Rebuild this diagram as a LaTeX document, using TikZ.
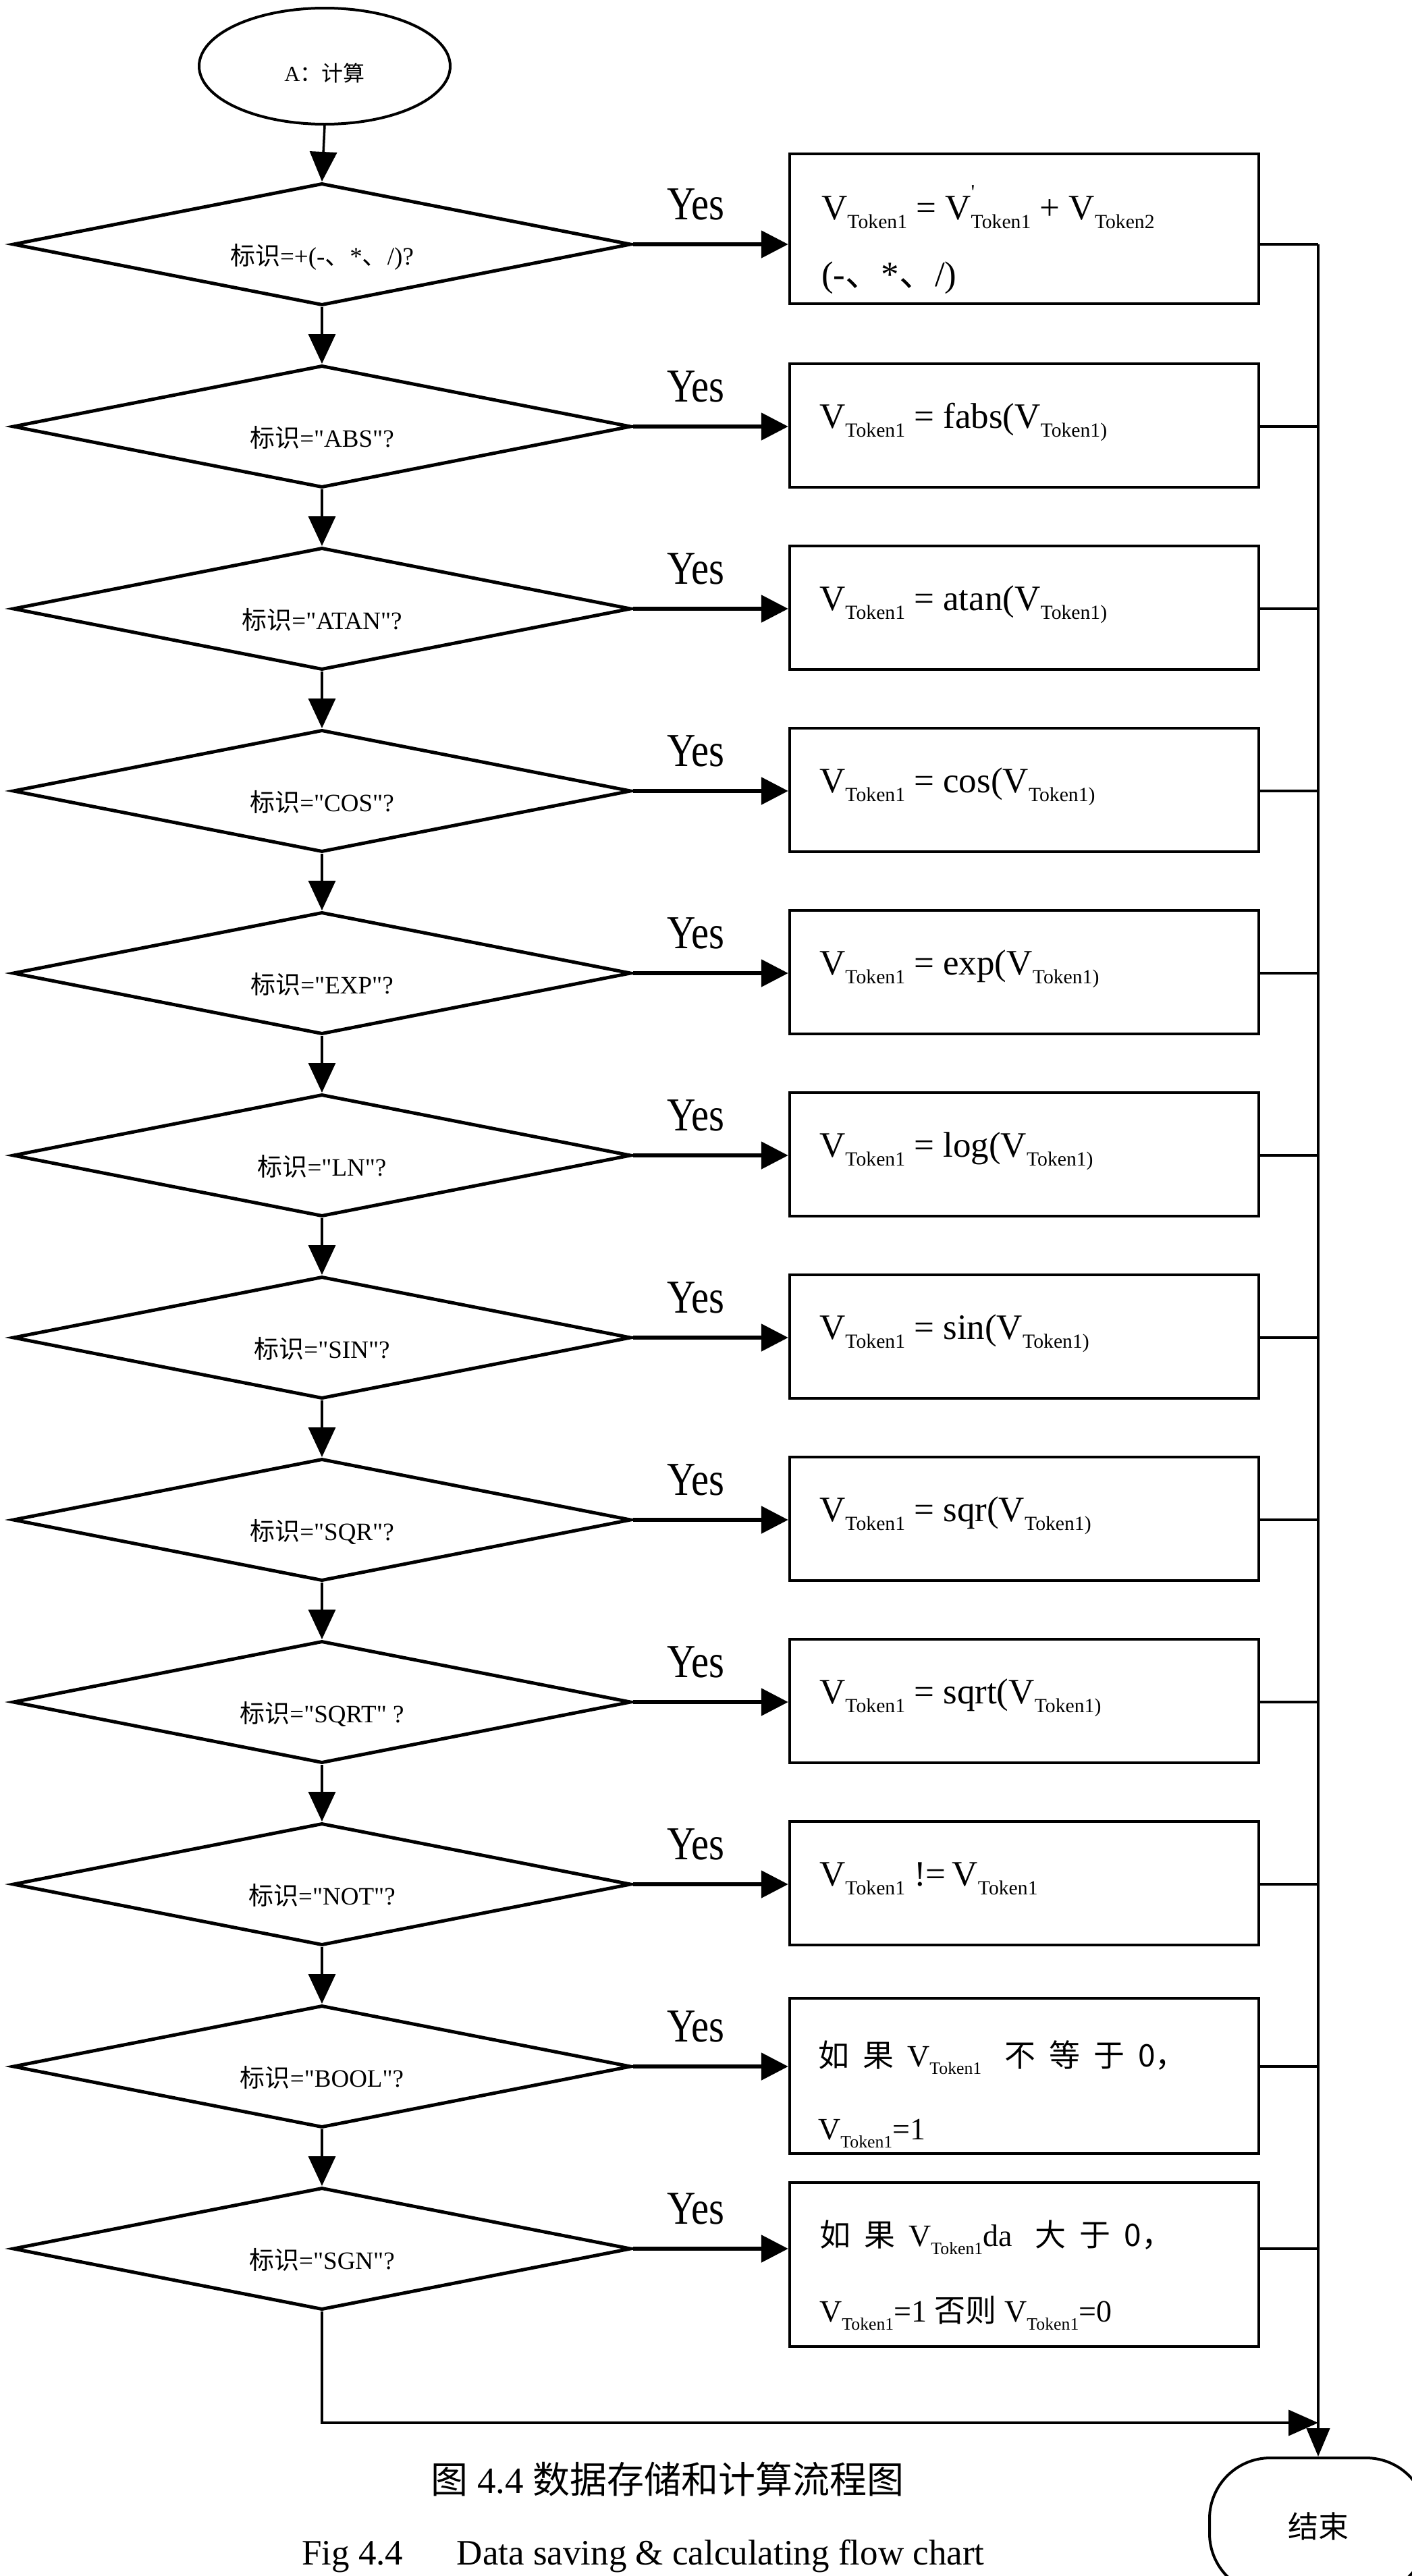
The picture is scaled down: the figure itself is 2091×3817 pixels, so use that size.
\documentclass[tikz,border=0pt]{standalone}
\usepackage{fontspec}
\usepackage{graphicx}
\setmainfont{Liberation Serif}[Ligatures=TeXOff]
\newfontfamily\cjk{Noto Sans CJK SC}
\newfontfamily\narrowserif{Liberation Serif}[FakeStretch=0.84]
\usetikzlibrary{shapes.geometric,arrows.meta}

% subscript "Token" style used in the formulas
\newcommand\sbs[1]{\raisebox{-0.26em}{\scalebox{0.56}{#1}}}
\newcommand\VT{V\sbs{Token1}}
\newcommand\prm{\rlap{\raisebox{0.55em}{\scalebox{0.6}{'}}}}
\newcommand\gp{\hspace{20pt}}
% decision label sits a little below the diamond centre
\newcommand\dlab[1]{\raisebox{-30pt}[0pt][0pt]{#1}}

\begin{document}
\begin{tikzpicture}[x=1pt,y=-1pt,
  terminal/.style={draw, ellipse, line width=4pt, minimum width=372pt, minimum height=172pt, inner sep=0pt,
    font=\fontsize{32}{38}\selectfont},
  decision/.style={draw, shape=diamond, aspect=5, line width=5pt, minimum width=916pt, minimum height=181pt,
    inner sep=0pt, font=\fontsize{37}{44}\selectfont},
  opbox/.style={draw, rectangle, line width=4.5pt, minimum width=695pt, minimum height=183pt, inner sep=0pt},
  optext/.style={anchor=base west, inner sep=0pt, font=\fontsize{53}{64}\selectfont},
  cjktext/.style={anchor=base west, inner sep=0pt, font=\fontsize{46}{56}\selectfont},
  yeslab/.style={inner sep=0pt, font=\narrowserif\fontsize{70}{82}\selectfont},
  flowdown/.style={line width=3.5pt, -{Triangle[length=44pt,width=40pt]}},
  flowright/.style={line width=5.5pt, -{Triangle[length=40pt,width=40pt]}},
  joinline/.style={line width=4.5pt},
]
\fill[white] (0,0) rectangle (2091,3817);
\useasboundingbox (0,0) rectangle (2091,3817);

% start
\node[terminal] (start) at (481,98) {\raisebox{-22pt}[0pt][0pt]{A{\cjk ：计算}}};

% decision chain
\foreach \i/\lab in {1/{+(-{\cjk 、}*{\cjk 、}/)?}, 2/{"ABS"?}, 3/{"ATAN"?}, 4/{"COS"?},
                     5/{"EXP"?}, 6/{"LN"?}, 7/{"SIN"?}, 8/{"SQR"?}, 9/{"SQRT" ?},
                     10/{"NOT"?}, 11/{"BOOL"?}, 12/{"SGN"?}} {
  \node[decision] (d\i) at (477,{362+270*(\i-1)}) {\dlab{{\cjk 标识}=\lab}};
  \node[yeslab] (y\i) at (1031,{303+270*(\i-1)}) {Yes};
}
\draw[flowdown] (start.south) -- (d1.north);
\foreach \i/\j in {1/2,2/3,3/4,4/5,5/6,6/7,7/8,8/9,9/10,10/11,11/12}
  \draw[flowdown] (d\i.south) -- (d\j.north);

% operation boxes
\node[opbox, minimum height=222pt] (b1) at (1517.5,339) {};
\foreach \i in {2,...,10}
  \node[opbox] (b\i) at (1517.5,{360.5+270*(\i-1)}) {};
\node[opbox, minimum height=230pt] (b11) at (1517.5,3076) {};
\node[opbox, minimum height=243pt] (b12) at (1517.5,3355.5) {};

% box texts
\node[optext] (t1a) at (1217,325) {\VT{} = V\prm\sbs{Token1} + V\sbs{Token2}};
\node[optext] (t1b) at (1217,424) {(-{\cjk 、}*{\cjk 、}/)};
\foreach \i/\fn in {2/fabs,3/atan,4/cos,5/exp,6/log,7/sin,8/sqr,9/sqrt}
  \node[optext] (t\i) at (1214,{364+270*(\i-1)}) {\VT{} = \fn(V\sbs{Token1)}};
\node[optext] (t10) at (1214,2794) {\VT\ !=\,\VT};
\node[cjktext] (t11a) at (1212,3062) {{\cjk 如}\gp{\cjk 果}\gp\VT\hspace{34pt}{\cjk 不}\gp{\cjk 等}\gp{\cjk 于}\gp{\cjk 0，}};
\node[cjktext] (t11b) at (1212,3170) {\VT=1};
\node[cjktext] (t12a) at (1214,3328) {{\cjk 如}\gp{\cjk 果}\gp\VT da\hspace{34pt}{\cjk 大}\gp{\cjk 于}\gp{\cjk 0，}};
\node[cjktext] (t12b) at (1214,3440) {\VT=1 {\cjk 否则} \VT=0};

% yes branches
\foreach \i in {1,...,12}
  \draw[flowright] (d\i.east) -- (d\i.east -| b\i.west);

% end
\node[draw, rounded corners=90pt, line width=4pt, minimum width=322pt, minimum height=202pt,
      inner sep=0pt, font=\cjk\fontsize{45}{54}\selectfont] (end) at (1953,3743) {结束};

% collecting rail on the right
\coordinate (rail) at (1953,362);
\foreach \i in {1,...,12}
  \draw[joinline] (d\i.east -| b\i.east) -- (d\i.east -| rail);
\draw[joinline, -{Triangle[length=42pt,width=34pt]}] (rail) -- (end.north);

% "no" exit of the last test
\coordinate (merge) at (1953,3590);
\draw[line width=4pt, -{Triangle[length=44pt,width=38pt]}] (d12.south) |- (merge);

% captions
\node[inner sep=0pt, font=\fontsize{55}{66}\selectfont] (cap1) at (989,3673)
  {{\cjk 图} 4.4 {\cjk 数据存储和计算流程图}};
\node[anchor=base west, inner sep=0pt, font=\fontsize{53}{64}\selectfont] (cap2) at (447,3800)
  {Fig 4.4\hspace{1.5em}Data saving \& calculating flow chart};
\end{tikzpicture}
\end{document}
